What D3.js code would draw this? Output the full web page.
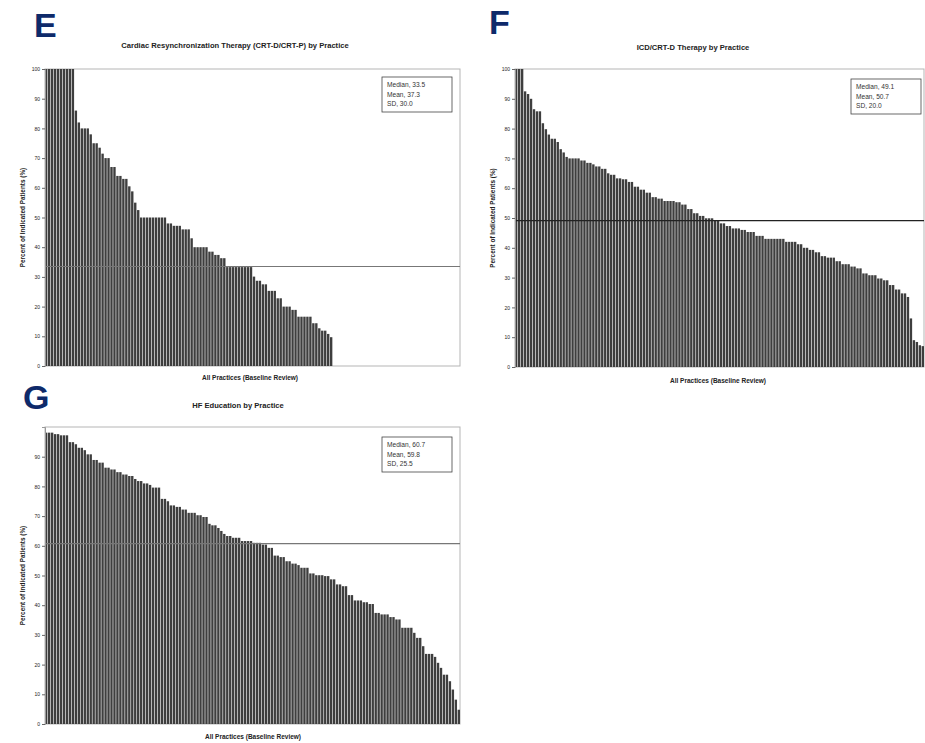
<!DOCTYPE html>
<html>
<head>
<meta charset="utf-8">
<script src="https://cdn.jsdelivr.net/npm/d3@7"></script>
<style>
  body { margin: 0; background: #fff; }
  text { font-family: "Liberation Sans", Arial, sans-serif; }
</style>
</head>
<body>
<div id="container"></div>
<script>
// percent of indicated patients per practice, sorted high to low
const crtValues = [
  100, 100, 100, 100, 100, 100, 100, 100, 100, 100,
  86, 82, 80, 80, 80, 78, 75, 75, 73.5, 71.5, 70, 70, 67, 67, 64, 64, 63, 63,
  60.5, 58.8, 55, 52.5,
  50, 50, 50, 50, 50, 50, 50, 50, 50, 48, 48, 47.2, 47.2, 47.2, 46, 46, 46, 43,
  40, 40, 40, 40, 40, 38.5, 38.5, 37.4, 37.4, 36.3, 36.3,
  33.3, 33.3, 33.3, 33.3, 33.3, 33.3, 33.3, 33.3, 33.3,
  30.1, 28.7, 28.7, 27.5, 27.5, 25.3, 25.3, 25.3, 22.8, 22.8, 20, 20, 20,
  18.9, 18.9, 16.6, 16.6, 16.6, 16.6, 16.6, 14.4, 14.4, 12.7, 11.9, 11.9, 10.8, 9.7,
  0, 0, 0, 0, 0, 0, 0, 0, 0, 0, 0, 0, 0, 0, 0, 0, 0, 0, 0, 0, 0, 0,
  0, 0, 0, 0, 0, 0, 0, 0, 0, 0, 0, 0, 0, 0, 0, 0, 0, 0, 0, 0, 0
];
const icdValues = [
  100, 100, 100, 92.5, 91.6, 90, 86.5, 85.8, 85.8, 81.8, 79.8, 78, 76.6, 76.6,
  75.5, 73.1, 72, 70.5, 70, 70, 70, 70, 69.3, 69.3, 68.5, 68.5, 68, 67.3, 67.3,
  66.5, 66.5, 65, 64.5, 64.5, 63.3, 63.3, 63, 63, 62.1, 62.1, 60.5, 60.5,
  59.5, 59.5, 58.5, 58.5, 57, 57, 56.5, 56.5, 55.7, 55.7, 55.7, 55.7, 55.3, 55.3,
  54.5, 54.5, 53, 53, 51.6, 51.6, 50.7, 50.7, 49.9, 49.9, 49.9, 49.3, 49.3,
  48.2, 48.2, 47.3, 47.3, 46.5, 46.5, 46.5, 46, 46, 45.3, 45.3, 45.3, 44, 44, 44,
  43, 43, 43, 43, 43, 43, 43, 42, 42, 42, 42, 41.2, 41.2, 40, 40, 39.3, 39.3,
  38.5, 38.5, 37.2, 37.2, 36.7, 36.7, 36.7, 35.5, 35.5, 34.5, 34.5, 34.5,
  33.7, 33.7, 33.1, 33.1, 31.4, 31.4, 30.8, 30.8, 30.8, 29.7, 29.7, 29.1, 29.1,
  27.5, 27.5, 26, 26, 24.7, 24.7, 23.5, 16.3, 9, 8.4, 7.3, 7
];
const hfValues = [
  98.1, 98.1, 98.1, 97.6, 97.6, 97.2, 97.2, 97.2, 94.9, 94.9, 94.2, 93, 93, 92.2,
  90.8, 90.8, 88.9, 88.9, 88, 88, 86.3, 86.3, 85.7, 85.7, 84.8, 84.8, 84, 84,
  83.5, 83.5, 82.5, 81.8, 81.8, 81, 81, 80.5, 79.6, 79.6, 79.6, 75.8, 75.8, 75,
  73.6, 73.6, 73.1, 73.1, 72.2, 72.2, 71.1, 71.1, 71.1, 70.3, 70.3, 69.7, 69.7,
  67.4, 66.9, 66.9, 66, 65, 64, 63.3, 63.3, 62.7, 62.7, 62.7, 61.6, 61.6, 61.6, 61.6,
  61, 61, 61, 60.4, 60.4, 59.3, 59.3, 56.7, 56.7, 56.2, 56.2, 54.8, 54.8, 54, 54,
  53.5, 52.6, 52.6, 52.6, 50.7, 50.7, 50.1, 50.1, 50.1, 49.8, 49.8, 48.7, 48.7,
  47, 47, 46.4, 46.4, 43.4, 43.4, 41.6, 41.6, 41.6, 41, 41, 40.4, 40.4, 37.4, 37.4,
  36.9, 36.9, 36.9, 36, 36, 35.2, 35.2, 32.4, 32.4, 32.4, 32.4, 30.7, 29, 29, 26.2,
  23.6, 23.6, 23.6, 22.6, 20.6, 18.9, 16.6, 16.6, 14.4, 11.6, 8.2, 4.8
];

const crtStats = { median: 33.5, mean: 37.3, sd: 30.0 };
const icdStats = { median: 49.1, mean: 50.7, sd: 20.0 };
const hfStats = { median: 60.7, mean: 59.8, sd: 25.5 };

const yTicks = [0, 10, 20, 30, 40, 50, 60, 70, 80, 90, 100];
const yTicksHF = [0, 10, 20, 30, 40, 50, 60, 70, 80, 90];

const titles = [
  "Cardiac Resynchronization Therapy (CRT-D/CRT-P) by Practice",
  "ICD/CRT-D Therapy by Practice",
  "HF Education by Practice"
];
const letters = ["E", "F", "G"];
const yTitle = "Percent of Indicated Patients (%)";
const xTitle = "All Practices (Baseline Review)";

const W = 925, H = 743;
const svg = d3.select("#container").append("svg")
  .attr("width", W)
  .attr("height", H)
  .style("background", "#fff");

const panels = [
  { values: crtValues, stats: crtStats, ticks: yTicks, x0: 45, x1: 460, y0: 69, y1: 366,
    medianColor: "#777", titleX: 235, titleY: 48, letterX: 34, letterY: 37,
    xLabX: 250, xLabY: 380, legX: 382, legY: 77 },
  { values: icdValues, stats: icdStats, ticks: yTicks, x0: 515, x1: 924, y0: 69, y1: 367,
    medianColor: "#222", titleX: 693, titleY: 50, letterX: 489, letterY: 34,
    xLabX: 718, xLabY: 383, legX: 851, legY: 79 },
  { values: hfValues, stats: hfStats, ticks: yTicksHF, x0: 45, x1: 460, y0: 427, y1: 724,
    medianColor: "#777", titleX: 238, titleY: 408, letterX: 23, letterY: 409,
    xLabX: 253, xLabY: 739, legX: 382, legY: 437 }
];

panels.forEach(function(p, i) {
  let g = svg.append("g");

  let x = d3.scaleBand()
    .domain(d3.range(p.values.length))
    .range([p.x0, p.x1])
    .paddingInner(0.2)
    .paddingOuter(0);
  let y = d3.scaleLinear().domain([0, 100]).range([p.y1, p.y0]);

  // plot frame
  g.append("rect")
    .attr("x", p.x0).attr("y", p.y0)
    .attr("width", p.x1 - p.x0).attr("height", p.y1 - p.y0)
    .attr("fill", "none")
    .attr("stroke", "#b5b5b5")
    .attr("stroke-width", 1);

  g.selectAll(".bar").data(p.values).enter()
    .append("rect")
      .attr("x", (d, j) => x(j))
      .attr("y", d => y(d))
      .attr("width", x.bandwidth())
      .attr("height", d => y(0) - y(d))
      .attr("fill", "#3e3e3e");

  // median reference line
  g.append("line")
    .attr("x1", p.x0).attr("x2", p.x1)
    .attr("y1", y(p.stats.median)).attr("y2", y(p.stats.median))
    .attr("stroke", p.medianColor)
    .attr("stroke-width", 1.2);

  let axis = g.append("g")
    .attr("transform", "translate(" + p.x0 + ",0)")
    .call(d3.axisLeft(y).tickValues(p.ticks).tickSize(3).tickPadding(2));
  axis.select(".domain").attr("stroke", "#999");
  axis.selectAll(".tick line").attr("stroke", "#666");
  axis.selectAll(".tick text")
    .attr("font-size", "5px")
    .attr("fill", "#222")
    .attr("font-family", "Liberation Sans, Arial, sans-serif");

  g.append("text")
    .attr("transform", "translate(" + (p.x0 - 22) + "," + ((p.y0 + p.y1) / 2) + ") rotate(-90)")
    .attr("text-anchor", "middle")
    .attr("dy", "0.35em")
    .attr("font-size", "6.4px")
    .attr("font-weight", "bold")
    .attr("fill", "#222")
    .text(yTitle);

  g.append("text")
    .attr("x", p.xLabX).attr("y", p.xLabY)
    .attr("text-anchor", "middle")
    .attr("font-size", "6.5px")
    .attr("font-weight", "bold")
    .attr("fill", "#222")
    .text(xTitle);

  g.append("text")
    .attr("x", p.titleX).attr("y", p.titleY)
    .attr("text-anchor", "middle")
    .attr("font-size", "7.6px")
    .attr("font-weight", "bold")
    .attr("fill", "#222")
    .text(titles[i]);

  g.append("text")
    .attr("x", p.letterX).attr("y", p.letterY)
    .attr("font-family", "DejaVu Sans, sans-serif")
    .attr("font-size", "34px")
    .attr("font-weight", "bold")
    .attr("fill", "#0e2a6a")
    .text(letters[i]);

  // stats box
  let leg = g.append("g").attr("transform", "translate(" + p.legX + "," + p.legY + ")");
  leg.append("rect")
    .attr("width", 70).attr("height", 35)
    .attr("fill", "#fff")
    .attr("stroke", "#444")
    .attr("stroke-width", 0.8);
  let lines = [
    "Median, " + p.stats.median.toFixed(1),
    "Mean, " + p.stats.mean.toFixed(1),
    "SD, " + p.stats.sd.toFixed(1)
  ];
  leg.selectAll(".st").data(lines).enter()
    .append("text")
      .attr("x", 5)
      .attr("y", (d, j) => 10 + j * 9.5)
      .attr("font-size", "6.6px")
      .attr("fill", "#333")
      .text(d => d);
});
</script>
</body>
</html>
